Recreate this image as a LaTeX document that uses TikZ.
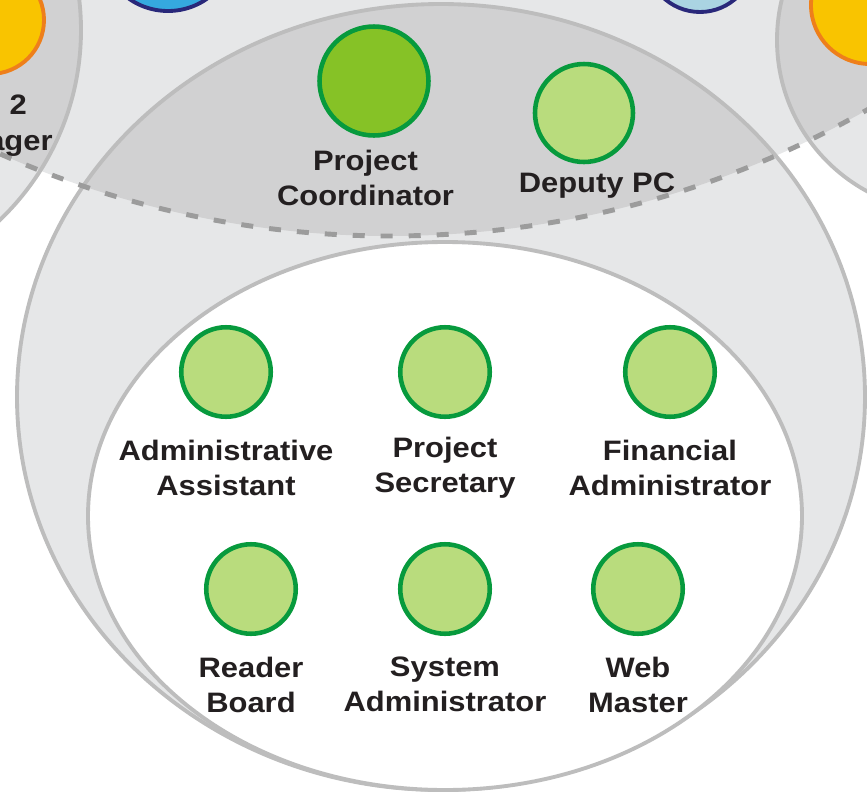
\documentclass[tikz,border=0pt]{standalone}
\usepackage{fontspec}
\setmainfont{Liberation Sans}[FakeStretch=1.1]
\usepackage{tikz}
\usetikzlibrary{positioning}
\definecolor{lgray}{HTML}{E6E7E8}
\definecolor{dgray}{HTML}{D1D1D2}
\definecolor{rimgray}{HTML}{BDBDBD}
\definecolor{dashgray}{HTML}{9C9C9C}
\definecolor{rolegreen}{HTML}{B9DC7D}
\definecolor{pcgreen}{HTML}{86C226}
\definecolor{edgegreen}{HTML}{079A3D}
\definecolor{wpyellow}{HTML}{F9C400}
\definecolor{wporange}{HTML}{EE7F1B}
\definecolor{navy}{HTML}{29287A}
\definecolor{skyblue}{HTML}{35A9DF}
\definecolor{paleblue}{HTML}{AAD4E2}
\definecolor{txt}{HTML}{231F20}

\begin{document}
\begin{tikzpicture}[x=0.02cm,y=-0.02cm]
\tikzstyle{every node}=[font=\fontsize{16}{20}\selectfont\bfseries,text=txt]
\tikzset{role/.style={circle,draw=edgegreen,line width=2.6pt,fill=rolegreen,minimum size=1.79cm,inner sep=0pt},
rolename/.style={align=center,inner sep=0pt,anchor=north}}
\useasboundingbox (0,0) rectangle (867,795);
\clip (0,0) rectangle (867,795);

% sets and their overlaps
\fill[lgray] (390,-728) circle[radius=964];
\fill[lgray] (-182,30) circle[radius=263];
\fill[lgray] (949,40) circle[radius=172];
\fill[lgray] (441,397) ellipse[x radius=424,y radius=393];
\begin{scope}
\clip (390,-728) circle[radius=964];
\fill[dgray] (-182,30) circle[radius=263];
\fill[dgray] (949,40) circle[radius=172];
\fill[dgray] (441,397) ellipse[x radius=424,y radius=393];
\end{scope}
\draw[rimgray,line width=2.2pt] (-182,30) circle[radius=263] (949,40) circle[radius=172]
(441,397) ellipse[x radius=424,y radius=393];
\filldraw[fill=white,draw=rimgray,line width=2.2pt] (445,516) ellipse[x radius=357,y radius=274];
\draw[dashgray,line width=2.8pt,dash pattern=on 0.24cm off 0.32cm] (390,-728) circle[radius=964];

% neighbours, cut by the frame
\filldraw[fill=wpyellow,draw=wporange,line width=2.2pt] (-10,20) circle[radius=54] (870,5) circle[radius=59];
\filldraw[fill=skyblue,draw=navy,line width=2.2pt] (168,-57) circle[radius=68];
\filldraw[fill=paleblue,draw=navy,line width=2.2pt] (700,-42) circle[radius=54];
\node[rolename] (wp2) at (-11,95) {WP 2\\Manager};

% coordination
\node[role,fill=pcgreen,minimum size=2.18cm] (pc) at (374,81) {};
\node[role,minimum size=1.96cm] (dpc) at (584,113) {};
\node[rolename,below=0.24cm of pc,xshift=-0.17cm] (pcL) {Project\\Coordinator};
\node[rolename,below=0.17cm of dpc,xshift=0.26cm] (dpcL) {Deputy PC};

% support staff
\node[role] (aa) at (226,372) {};
\node[role] (ps) at (445,372) {};
\node[role] (fa) at (670,372) {};
\node[role] (rb) at (251,589) {};
\node[role] (sa) at (445,589) {};
\node[role] (wm) at (638,589) {};
\node[rolename,below=0.41cm of aa] (aaL) {Administrative\\Assistant};
\node[rolename,below=0.36cm of ps] (psL) {Project\\Secretary};
\node[rolename,below=0.41cm of fa] (faL) {Financial\\Administrator};
\node[rolename,below=0.41cm of rb] (rbL) {Reader\\Board};
\node[rolename,below=0.41cm of sa] (saL) {System\\Administrator};
\node[rolename,below=0.41cm of wm] (wmL) {Web\\Master};

\end{tikzpicture}
\end{document}
